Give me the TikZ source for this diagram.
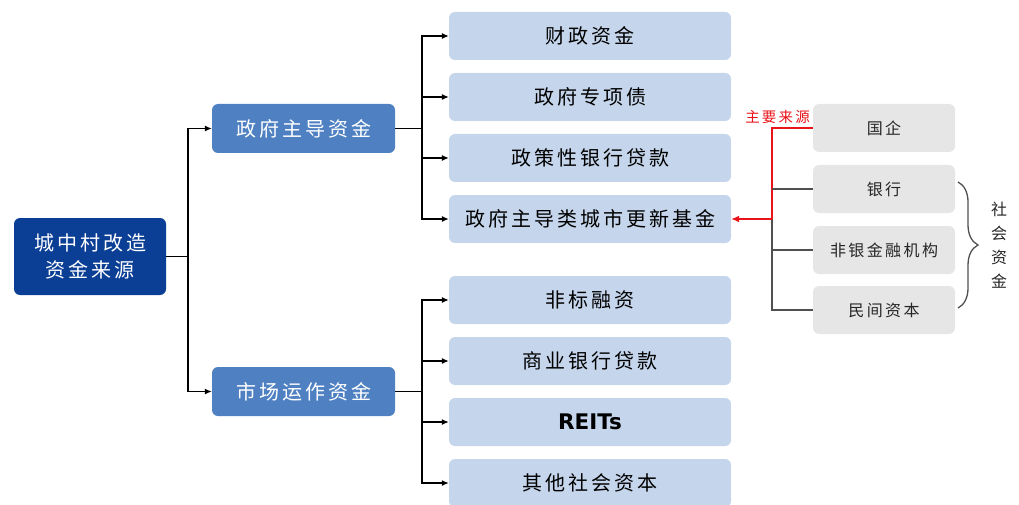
\documentclass[tikz,border=0pt]{standalone}
\usepackage{fontspec}
\setmainfont[LetterSpace=15]{Noto Sans CJK SC}
\newfontfamily\latinb{DejaVu Sans}
\usetikzlibrary{arrows.meta,decorations.pathreplacing}
\definecolor{rootblue}{HTML}{0B3F95}
\definecolor{midblue}{HTML}{4F81C2}
\definecolor{lightblue}{HTML}{C5D5EB}
\definecolor{lightgrey}{HTML}{E6E6E6}
\definecolor{darkline}{HTML}{505050}
\definecolor{redline}{HTML}{E8141A}
\begin{document}
\begin{tikzpicture}[x=1pt,y=-1pt,
  box/.style={rounded corners=6pt,inner sep=0pt,align=center},
  rootbox/.style={box,fill=rootblue,text=white,minimum width=152pt,minimum height=77pt,font=\fontsize{20}{27}\selectfont},
  midbox/.style={box,fill=midblue,text=white,minimum width=183pt,minimum height=49pt,font=\fontsize{20}{22}\selectfont},
  leafbox/.style={box,fill=lightblue,text=black,minimum width=282pt,minimum height=48pt,font=\fontsize{20}{22}\selectfont},
  greybox/.style={box,fill=lightgrey,text=black!85,minimum width=142pt,minimum height=48pt,font=\fontsize{16}{20}\selectfont},
  conn/.style={line width=1.2pt,black},
  arr/.style={conn,-{Latex[length=7pt,width=6pt]}},
  gline/.style={line width=1.3pt,darkline},
  rline/.style={line width=1.3pt,redline},
]
\useasboundingbox (0,0) rectangle (1019,505);
\clip (0,0) rectangle (1019,505);
% root
\node[rootbox] (root) at (90,256.5) {城中村改造\\资金来源};
% mid
\node[midbox] (gov) at (303.5,128.5) {政府主导资金};
\node[midbox] (mkt) at (303.5,391.5) {市场运作资金};
% leaves
\node[leafbox] (l1) at (590,36) {财政资金};
\node[leafbox] (l2) at (590,97) {政府专项债};
\node[leafbox] (l3) at (590,158) {政策性银行贷款};
\node[leafbox] (l4) at (590,219) {政府主导类城市更新基金};
\node[leafbox] (l5) at (590,300) {非标融资};
\node[leafbox] (l6) at (590,361) {商业银行贷款};
\node[leafbox] (l7) at (590,422) {\latinb\bfseries\fontsize{21.5}{22}\selectfont REITs};
\node[leafbox] (l8) at (590,483) {其他社会资本};
% grey
\node[greybox] (g1) at (884,128) {国企};
\node[greybox] (g2) at (884,189) {银行};
\node[greybox] (g3) at (884,250) {非银金融机构};
\node[greybox] (g4) at (884,310) {民间资本};
% coordinates
\coordinate (t0) at (188,256.5);
\coordinate (t1) at (422,128.5);
\coordinate (t2) at (422,391.5);
\coordinate (t3) at (772,219);
% root connectors
\draw[conn] (root.east) -- (t0);
\draw[arr] (t0) |- (gov.west);
\draw[arr] (t0) |- (mkt.west);
% gov connectors
\draw[conn] (gov.east) -- (t1);
\foreach \n in {l1,l2,l3,l4}{\draw[arr] (t1) |- (\n.west);}
\draw[conn] (mkt.east) -- (t2);
\foreach \n in {l5,l6,l7,l8}{\draw[arr] (t2) |- (\n.west);}
% grey connectors
\draw[rline] (g1.west) -| (t3);
\draw[gline] (t3) |- (g4.west);
\draw[gline] (t3 |- g2.west) -- (g2.west);
\draw[gline] (t3 |- g3.west) -- (g3.west);
\draw[rline,-{Latex[length=8pt,width=7pt]}] (t3) -- (l4.east);
\node[anchor=south east,inner sep=1pt,text=redline,font=\fontsize{14.5}{16}\selectfont] (lbl) at (811,125) {主要来源};
% brace
\coordinate (b1) at (958,182);
\coordinate (b2) at (958,308);
\draw[line width=1.3pt,darkline,decorate,decoration={brace,amplitude=20pt}] (b1) -- (b2);
\node[align=center,text=black!85,font=\fontsize{16}{24}\selectfont,inner sep=0pt] (soc) at (999,245) {社\\会\\资\\金};
\end{tikzpicture}
\end{document}
